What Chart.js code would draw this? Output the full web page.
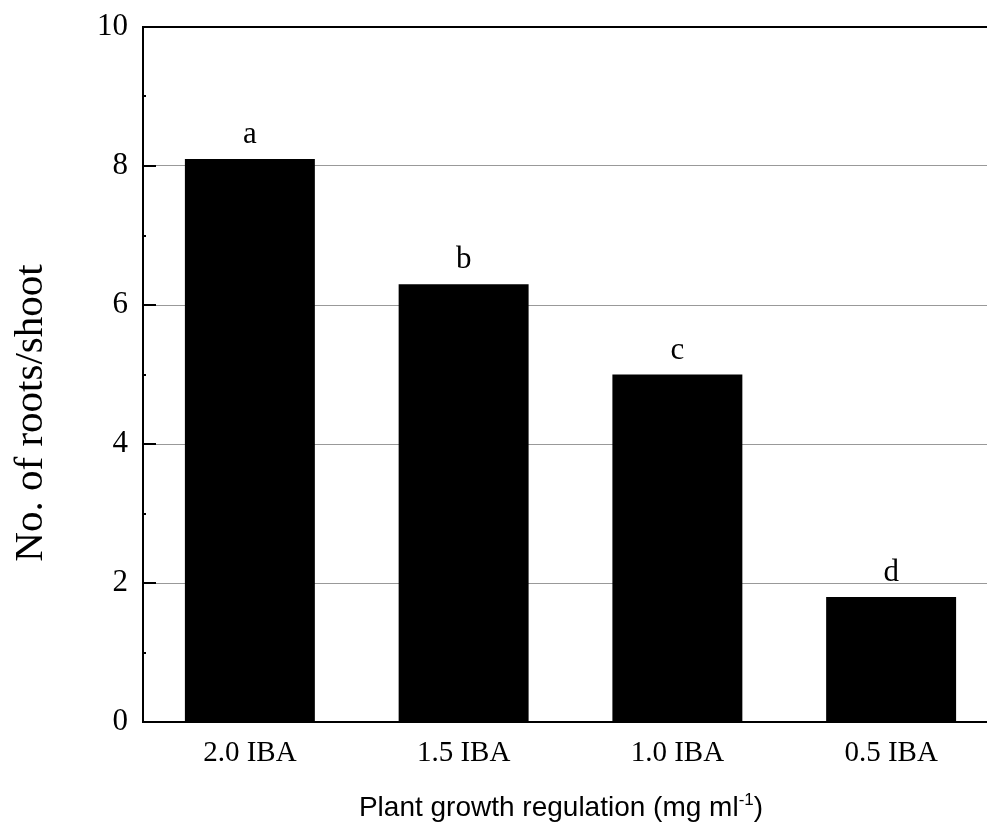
<!DOCTYPE html>
<html>
<head>
<meta charset="utf-8">
<style>
  html, body { margin: 0; padding: 0; background: #fff; overflow: hidden; }
  #wrap { width: 987px; height: 822px; overflow: hidden; }
  canvas { display: block; }
</style>
<script src="https://cdn.jsdelivr.net/npm/chart.js@4.4.1/dist/chart.umd.min.js"></script>
</head>
<body>
<div id="wrap"><canvas id="chart" width="1000" height="822"></canvas></div>
<script>
// Root counts per shoot for each IBA concentration
const categories = ['2.0 IBA', '1.5 IBA', '1.0 IBA', '0.5 IBA'];
const rootsPerShoot = [8.1, 6.3, 5.0, 1.8];
const significance = ['a', 'b', 'c', 'd'];
const yTicks = [0, 2, 4, 6, 8, 10];

const serif = '"Liberation Serif", "Times New Roman", serif';
const sans = '"Liberation Sans", Arial, sans-serif';

// Inward-pointing tick marks on the left axis (major on labelled values, minor between)
const innerTicks = {
  id: 'innerTicks',
  afterDatasetsDraw(chart) {
    const { ctx, chartArea, scales: { y } } = chart;
    ctx.save();
    ctx.strokeStyle = '#000';
    ctx.lineWidth = 2;
    for (let v = y.min; v <= y.max; v += 1) {
      const py = Math.round(y.getPixelForValue(v));
      const len = yTicks.includes(v) ? 13 : 3;
      ctx.beginPath();
      ctx.moveTo(chartArea.left, py);
      ctx.lineTo(chartArea.left + len, py);
      ctx.stroke();
    }
    ctx.restore();
  }
};

// Letters of significance above each bar
const barLetters = {
  id: 'barLetters',
  afterDatasetsDraw(chart) {
    const { ctx } = chart;
    const meta = chart.getDatasetMeta(0);
    ctx.save();
    ctx.fillStyle = '#000';
    ctx.font = '31px ' + serif;
    ctx.textAlign = 'center';
    ctx.textBaseline = 'alphabetic';
    meta.data.forEach((bar, i) => {
      ctx.fillText(significance[i], bar.x, bar.y - 16);
    });
    ctx.restore();
  }
};

// Axis titles (x title carries a superscript unit)
const axisTitles = {
  id: 'axisTitles',
  afterDraw(chart) {
    const { ctx } = chart;
    ctx.save();
    ctx.fillStyle = '#000';

    // y title
    ctx.save();
    ctx.translate(42, 413);
    ctx.rotate(-Math.PI / 2);
    ctx.font = '41px ' + serif;
    ctx.textAlign = 'center';
    ctx.textBaseline = 'alphabetic';
    ctx.fillText('No. of roots/shoot', 0, 0);
    ctx.restore();

    // x title
    const main = 'Plant growth regulation (mg ml';
    const sup = '-1';
    const close = ')';
    const mainFont = '28px ' + sans;
    const supFont = '17px ' + sans;
    ctx.font = mainFont;
    const wMain = ctx.measureText(main).width;
    const wClose = ctx.measureText(close).width;
    ctx.font = supFont;
    const wSup = ctx.measureText(sup).width;
    const total = wMain + wSup + wClose;
    let x = 561 - total / 2;
    const base = 816;
    ctx.textAlign = 'left';
    ctx.textBaseline = 'alphabetic';
    ctx.font = mainFont;
    ctx.fillText(main, x, base);
    x += wMain;
    ctx.font = supFont;
    ctx.fillText(sup, x, base - 11);
    x += wSup;
    ctx.font = mainFont;
    ctx.fillText(close, x, base);
    ctx.restore();
  }
};

new Chart(document.getElementById('chart'), {
  type: 'bar',
  data: {
    labels: categories,
    datasets: [{
      data: rootsPerShoot,
      backgroundColor: '#000',
      borderWidth: 0,
      categoryPercentage: 1.0,
      barPercentage: 0.608
    }]
  },
  options: {
    responsive: false,
    animation: false,
    devicePixelRatio: 1,
    layout: { padding: { top: 27, right: 2, left: 0, bottom: 0 } },
    plugins: {
      legend: { display: false },
      tooltip: { enabled: false }
    },
    scales: {
      x: {
        type: 'category',
        offset: true,
        grid: { display: false, drawTicks: false },
        border: { display: true, color: '#000', width: 2 },
        ticks: {
          color: '#000',
          font: { family: serif, size: 29 },
          padding: 14,
          maxRotation: 0
        },
        afterFit(scale) { scale.height = 100; }
      },
      y: {
        min: 0,
        max: 10,
        afterBuildTicks(scale) {
          scale.ticks = yTicks.map(v => ({ value: v }));
        },
        grid: {
          drawTicks: false,
          color: ctx => ctx.tick && ctx.tick.value === 10 ? '#000' : (ctx.tick && ctx.tick.value === 0 ? 'rgba(0,0,0,0)' : '#999'),
          lineWidth: ctx => ctx.tick && ctx.tick.value === 10 ? 2 : 1
        },
        border: { display: true, color: '#000', width: 2 },
        ticks: {
          color: '#000',
          font: { family: serif, size: 31 },
          padding: 15
        },
        afterFit(scale) {
          scale.width = 143;
          scale.paddingTop = 0;
          scale.paddingBottom = 0;
        }
      }
    }
  },
  plugins: [innerTicks, barLetters, axisTitles]
});
</script>
</body>
</html>
